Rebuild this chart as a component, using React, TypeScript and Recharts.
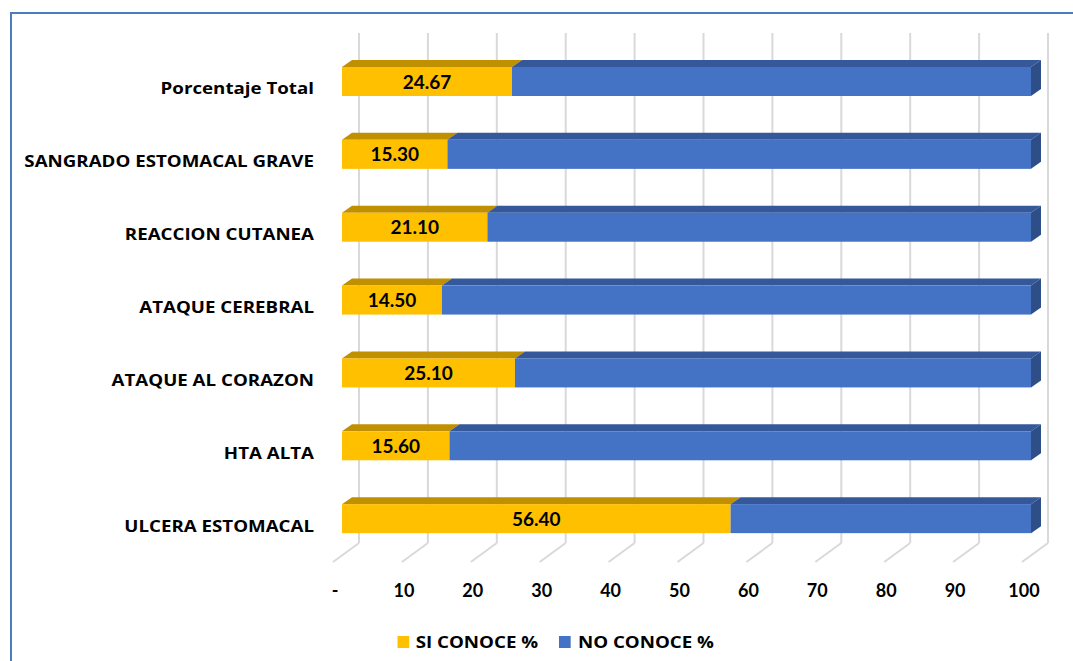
import React from "react"
import { BarChart, Bar, XAxis, YAxis, CartesianGrid, Legend, LabelList } from "recharts"

const categorias = [
  "Porcentaje Total",
  "SANGRADO ESTOMACAL GRAVE",
  "REACCION CUTANEA",
  "ATAQUE CEREBRAL",
  "ATAQUE AL CORAZON",
  "HTA ALTA",
  "ULCERA ESTOMACAL",
]
const siConoce = [24.67, 15.3, 21.1, 14.5, 25.1, 15.6, 56.4]
const noConoce = [75.33, 84.7, 78.9, 85.5, 74.9, 84.4, 43.6]
const ticksX = [0, 10, 20, 30, 40, 50, 60, 70, 80, 90, 100]
const ordenLeyenda = ["si", "no"]

const FUENTE = "Lato, 'Open Sans', sans-serif"
const FUENTE_TXT = "'Open Sans', Lato, sans-serif"
const ESTIRAR = 1.17 // el texto del original esta algo ensanchado

// profundidad 3D (fondo) y posicion de las barras dentro de ella
const FONDO_DX = 26
const FONDO_DY = 19
const BARRA_DX = 9
const BARRA_DY = 7
const GROSOR_DX = 10
const GROSOR_DY = 7

const data = categorias.map((name, i) => ({
  name,
  si: siConoce[i],
  no: noConoce[i],
}))

const barra3D = (frente: string, arriba: string, lado: string | null) => (props: any) => {
  const { x, y, width, height } = props
  if (width == null || height == null) return <g />
  const fx = x + BARRA_DX
  const fy = y - BARRA_DY
  return (
    <g>
      <polygon
        points={`${fx},${fy} ${fx + GROSOR_DX},${fy - GROSOR_DY} ${fx + width + GROSOR_DX},${fy - GROSOR_DY} ${fx + width},${fy}`}
        fill={arriba}
      />
      {lado && (
        <polygon
          points={`${fx + width},${fy} ${fx + width + GROSOR_DX},${fy - GROSOR_DY} ${fx + width + GROSOR_DX},${fy - GROSOR_DY + height} ${fx + width},${fy + height}`}
          fill={lado}
        />
      )}
      <rect x={fx} y={fy} width={width} height={height} fill={frente} />
    </g>
  )
}

const lineaGrid = (props: any) => {
  const { x1, y1, y2, index } = props
  return (
    <g key={`v-${index}`}>
      <line x1={x1 + FONDO_DX} y1={y1 - FONDO_DY} x2={x1 + FONDO_DX} y2={y2 - FONDO_DY} stroke="#d9d9d9" strokeWidth={2} />
      <line x1={x1 + FONDO_DX} y1={y2 - FONDO_DY} x2={x1} y2={y2} stroke="#d9d9d9" strokeWidth={2} />
    </g>
  )
}

const TickX = (props: any) => {
  const { x, y, payload } = props
  return (
    <text x={x + 2} y={y} dy={33} textAnchor="middle" fontFamily={FUENTE} fontWeight={700} fontSize={18} fill="#000">
      {payload.value === 0 ? "-" : payload.value}
    </text>
  )
}

const TickY = (props: any) => {
  const { x, y, payload } = props
  return (
    <g transform={`translate(${x},${y + 6}) scale(${ESTIRAR},1)`}>
      <text x={0} y={0} textAnchor="end" fontFamily={FUENTE_TXT} fontWeight={700} fontSize={16} fill="#000">
        {payload.value}
      </text>
    </g>
  )
}

const EtiquetaSi = (props: any) => {
  const { x, y, width, height, value } = props
  return (
    <text
      x={x + BARRA_DX + width / 2}
      y={y - BARRA_DY + height / 2}
      dy={7}
      textAnchor="middle"
      fontFamily={FUENTE}
      fontWeight={700}
      fontSize={19}
      fill="#000"
    >
      {Number(value).toFixed(2)}
    </text>
  )
}

const Leyenda = (props: any) => {
  const items = ordenLeyenda
    .map((k) => (props.payload || []).find((p: any) => p.dataKey === k))
    .filter(Boolean)
  return (
    <div
      style={{
        display: "flex",
        justifyContent: "center",
        gap: 18,
        paddingLeft: 76,
        transform: `scaleX(${ESTIRAR})`,
        fontFamily: FUENTE_TXT,
        fontWeight: 700,
        fontSize: 16,
        color: "#000",
      }}
    >
      {items.map((p: any) => (
        <div key={p.value} style={{ display: "flex", alignItems: "center", gap: 6 }}>
          <span style={{ width: 10, height: 12, background: p.color, display: "inline-block" }} />
          <span>{p.value}</span>
        </div>
      ))}
    </div>
  )
}

export default function App() {
  return (
    <div style={{ position: "fixed", left: 0, top: 0, width: 1073, height: 661, overflow: "hidden", background: "#fff" }}>
      <div
        style={{
          position: "absolute",
          left: 10,
          top: 12,
          width: 1200,
          height: 800,
          borderLeft: "2px solid #4a7ebb",
          borderTop: "2px solid #4a7ebb",
        }}
      />
      <div style={{ position: "absolute", left: 0, top: 0 }}>
        <BarChart
          width={1073}
          height={661}
          layout="vertical"
          data={data}
          margin={{ top: 52, right: 51, left: 0, bottom: 10 }}
        >
          <CartesianGrid horizontal={false} vertical={lineaGrid} syncWithTicks />
          <XAxis
            type="number"
            domain={[0, 100]}
            ticks={ticksX}
            interval={0}
            axisLine={false}
            tickLine={false}
            tickSize={0}
            height={69}
            tick={<TickX />}
          />
          <YAxis
            type="category"
            dataKey="name"
            width={333}
            interval={0}
            axisLine={false}
            tickLine={false}
            tickSize={0}
            tickMargin={19}
            tick={<TickY />}
          />
          <Legend verticalAlign="bottom" height={20} content={<Leyenda />} />
          <Bar dataKey="si" name="SI CONOCE %" stackId="a" fill="#ffc000" barSize={29} isAnimationActive={false} shape={barra3D("#ffc000", "#c09000", null)}>
            <LabelList dataKey="si" content={<EtiquetaSi />} />
          </Bar>
          <Bar dataKey="no" name="NO CONOCE %" stackId="a" fill="#4472c4" barSize={29} isAnimationActive={false} shape={barra3D("#4472c4", "#34589a", "#2e4e88")} />
        </BarChart>
      </div>
    </div>
  )
}
